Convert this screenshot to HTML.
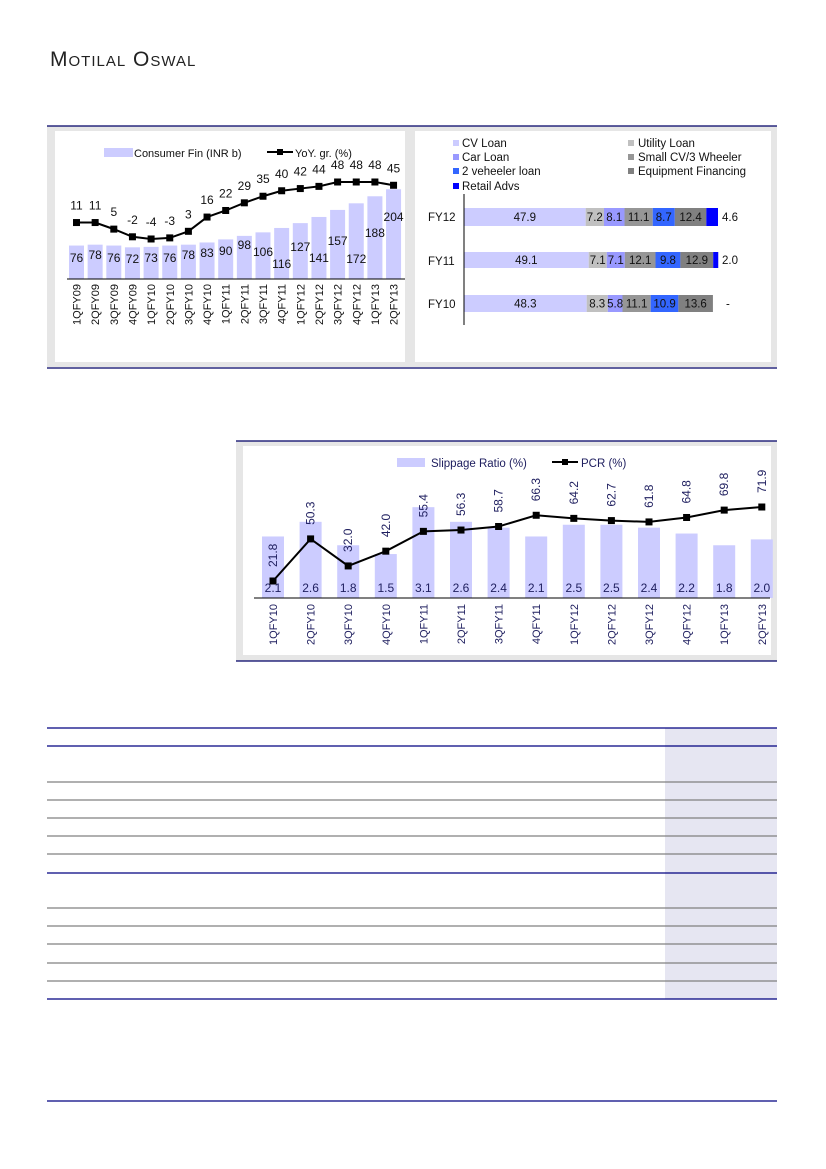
<!DOCTYPE html>
<html><head><meta charset="utf-8"><style>
body{margin:0;background:#fff}
svg{display:block}
text{font-family:"Liberation Sans",sans-serif}
</style></head><body>
<svg width="826" height="1169" viewBox="0 0 826 1169" xmlns="http://www.w3.org/2000/svg">
<text x="50" y="66" font-family="Liberation Serif" font-size="21" fill="#222" style="font-variant:small-caps;letter-spacing:1px">Motilal Oswal</text>

<rect x="47" y="126" width="730" height="241" fill="#e6e6e6"/>
<rect x="55" y="131" width="350" height="231" fill="#fff"/>
<rect x="415" y="131" width="356" height="231" fill="#fff"/>
<rect x="410" y="131" width="5" height="207" fill="#e6e6e6"/>
<line x1="47" y1="126" x2="777" y2="126" stroke="#000066" stroke-width="1.2"/>
<line x1="47" y1="368" x2="777" y2="368" stroke="#000066" stroke-width="1.2"/>

<g id="c1" font-size="12" fill="#111">
<rect x="104" y="148" width="29" height="9" fill="#ccccff"/>
<text x="134" y="157" font-size="11">Consumer Fin (INR b)</text>
<line x1="267" y1="152" x2="293" y2="152" stroke="#000" stroke-width="2"/>
<rect x="277" y="149" width="6" height="6" fill="#000"/>
<text x="295" y="157" font-size="11">YoY. gr. (%)</text>
</g>
<g id="c1bars"></g>
<line x1="67" y1="279" x2="405" y2="279" stroke="#000" stroke-width="1"/>

<g font-size="11.5" fill="#111">
<rect x="453" y="140" width="6" height="6" fill="#ccccff"/><text x="462" y="147">CV Loan</text>
<rect x="453" y="154" width="6" height="6" fill="#9999ff"/><text x="462" y="161">Car Loan</text>
<rect x="453" y="168" width="6" height="6" fill="#3366ff"/><text x="462" y="175">2 veheeler loan</text>
<rect x="453" y="183" width="6" height="6" fill="#0000ff"/><text x="462" y="190">Retail Advs</text>
<rect x="628" y="140" width="6" height="6" fill="#c0c0c0"/><text x="638" y="147">Utility Loan</text>
<rect x="628" y="154" width="6" height="6" fill="#969696"/><text x="638" y="161">Small CV/3 Wheeler</text>
<rect x="628" y="168" width="6" height="6" fill="#808080"/><text x="638" y="175">Equipment Financing</text>
<text x="428" y="221">FY12</text><text x="428" y="265">FY11</text><text x="428" y="308">FY10</text>
</g>
<g id="c2"></g>
<line x1="464" y1="194" x2="464" y2="325" stroke="#000" stroke-width="1"/>

<rect x="236" y="441" width="541" height="220" fill="#e6e6e6"/>
<rect x="243" y="446" width="528" height="209" fill="#fff"/>
<line x1="236" y1="441" x2="777" y2="441" stroke="#000066" stroke-width="1.2"/>
<line x1="236" y1="661" x2="777" y2="661" stroke="#000066" stroke-width="1.2"/>
<rect x="397" y="458" width="28" height="9" fill="#ccccff"/>
<text x="431" y="467" font-size="11.5" fill="#202060">Slippage Ratio (%)</text>
<line x1="552" y1="462" x2="578" y2="462" stroke="#000" stroke-width="2"/>
<rect x="562" y="459" width="6" height="6" fill="#000"/>
<text x="581" y="467" font-size="11.5" fill="#202060">PCR (%)</text>
<g id="c3"></g>
<line x1="254" y1="598" x2="770" y2="598" stroke="#000" stroke-width="1"/>

<rect x="665" y="728" width="112" height="271" fill="#e6e6f2"/>
<g stroke="#808080" stroke-width="1.3">
<line x1="47" y1="782" x2="777" y2="782"/><line x1="47" y1="800" x2="777" y2="800"/>
<line x1="47" y1="818" x2="777" y2="818"/><line x1="47" y1="836" x2="777" y2="836"/>
<line x1="47" y1="854" x2="777" y2="854"/><line x1="47" y1="908" x2="777" y2="908"/>
<line x1="47" y1="926" x2="777" y2="926"/><line x1="47" y1="944" x2="777" y2="944"/>
<line x1="47" y1="963" x2="777" y2="963"/><line x1="47" y1="981" x2="777" y2="981"/>
</g>
<g stroke="#000080" stroke-width="1.3">
<line x1="47" y1="728" x2="777" y2="728"/><line x1="47" y1="746" x2="777" y2="746"/>
<line x1="47" y1="873" x2="777" y2="873"/><line x1="47" y1="999" x2="777" y2="999"/>
<line x1="47" y1="1101" x2="777" y2="1101"/>
</g>
</svg>
<script>
var NS="http://www.w3.org/2000/svg";
function el(p,t,a,txt){var e=document.createElementNS(NS,t);for(var k in a)e.setAttribute(k,a[k]);if(txt!=null)e.textContent=txt;p.appendChild(e);return e;}
var g=document.getElementById("c1bars");
var q=["1QFY09","2QFY09","3QFY09","4QFY09","1QFY10","2QFY10","3QFY10","4QFY10","1QFY11","2QFY11","3QFY11","4QFY11","1QFY12","2QFY12","3QFY12","4QFY12","1QFY13","2QFY13"];
var b=[76,78,76,72,73,76,78,83,90,98,106,116,127,141,157,172,188,204];
var ly=[262,259,262,263,262,262,259,257,255,249,256,268,251,262,245,263,237,221];
var yy=[11,11,5,-2,-4,-3,3,16,22,29,35,40,42,44,48,48,48,45];
var pts=[];
for(var i=0;i<18;i++){var cx=76.5+i*18.65,h=b[i]*0.44;
el(g,"rect",{x:cx-7.5,y:279-h,width:15,height:h,fill:"#ccccff"});
el(g,"text",{x:cx,y:ly[i],"text-anchor":"middle","font-size":"12",fill:"#111"},b[i]);
var y=234.6-1.096*yy[i];pts.push(cx+","+y);
el(g,"text",{x:cx,y:y-13,"text-anchor":"middle","font-size":"12",fill:"#111"},yy[i]);
el(g,"text",{x:cx+4,y:284,"text-anchor":"end","font-size":"11",fill:"#111",transform:"rotate(-90 "+(cx+4)+" 284)"},q[i]);}
el(g,"polyline",{points:pts.join(" "),fill:"none",stroke:"#000","stroke-width":"2"});
pts.forEach(function(p){var s=p.split(",");el(g,"rect",{x:s[0]-3.5,y:s[1]-3.5,width:7,height:7,fill:"#000"});});
var g2=document.getElementById("c2");
var cols=["#ccccff","#c0c0c0","#9999ff","#969696","#3366ff","#808080","#0000ff"];
var rows=[[208,18,[47.9,7.2,8.1,11.1,8.7,12.4,4.6],"4.6"],[252,16,[49.1,7.1,7.1,12.1,9.8,12.9,2.0],"2.0"],[295,17,[48.3,8.3,5.8,11.1,10.9,13.6,0],"-"]];
rows.forEach(function(r){var x=464;r[2].forEach(function(v,j){var w=v*2.54;if(w>0){el(g2,"rect",{x:x,y:r[0],width:w,height:r[1],fill:cols[j]});
if(j<6)el(g2,"text",{x:x+w/2,y:r[0]+r[1]/2+4,"text-anchor":"middle","font-size":"11.5",fill:"#111"},v.toFixed(1));}x+=w;});
el(g2,"text",{x:r[3]=="-"?726:722,y:r[0]+r[1]/2+4,"font-size":"11.5",fill:"#111"},r[3]);});
var g3=document.getElementById("c3");
var q3=["1QFY10","2QFY10","3QFY10","4QFY10","1QFY11","2QFY11","3QFY11","4QFY11","1QFY12","2QFY12","3QFY12","4QFY12","1QFY13","2QFY13"];
var s=[2.1,2.6,1.8,1.5,3.1,2.6,2.4,2.1,2.5,2.5,2.4,2.2,1.8,2.0];
var p=[21.8,50.3,32.0,42.0,55.4,56.3,58.7,66.3,64.2,62.7,61.8,64.8,69.8,71.9];
var pp=[];
for(var i=0;i<14;i++){var cx=273+i*37.6,h=s[i]*29.3;
el(g3,"rect",{x:cx-11,y:598-h,width:22,height:h,fill:"#ccccff"});
el(g3,"text",{x:cx,y:592,"text-anchor":"middle","font-size":"12",fill:"#202060"},s[i].toFixed(1));
var y=581-(p[i]-21.8)*1.477;pp.push([cx,y]);
el(g3,"text",{x:cx+4,y:y-14,"font-size":"12",fill:"#202060",transform:"rotate(-90 "+(cx+4)+" "+(y-14)+")"},p[i].toFixed(1));
el(g3,"text",{x:cx+4,y:604,"text-anchor":"end","font-size":"11",fill:"#202060",transform:"rotate(-90 "+(cx+4)+" 604)"},q3[i]);}
el(g3,"polyline",{points:pp.map(function(a){return a.join(",")}).join(" "),fill:"none",stroke:"#000","stroke-width":"2"});
pp.forEach(function(a){el(g3,"rect",{x:a[0]-3.5,y:a[1]-3.5,width:7,height:7,fill:"#000"});});
</script>
</body></html>
